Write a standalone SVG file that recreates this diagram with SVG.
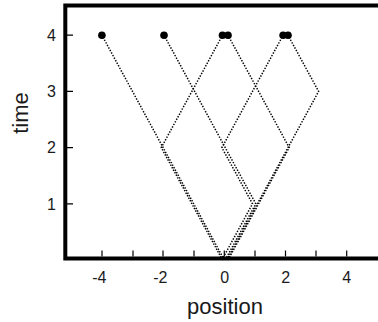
<svg xmlns="http://www.w3.org/2000/svg" width="378" height="322" viewBox="0 0 378 322">
<style>
.ax{stroke:#000;stroke-width:4;fill:none}
.tk{stroke:#000;stroke-width:1.2;fill:none}
.lbl{font-family:"Liberation Sans",Arial,sans-serif;font-size:16px;fill:#1a1a1a}
.ttl{font-family:"Liberation Sans",Arial,sans-serif;font-size:22px;fill:#1a1a1a}
.path{stroke:#000;stroke-width:1.5;fill:none;stroke-dasharray:1.4 1.5}
.dot{fill:#000}
</style>
<rect width="378" height="322" fill="#fff"/>
<g id="axes">
<path class="ax" d="M65.3,5.5 H378 M65.3,3.5 V260.5 M63.3,258.5 H378"/>
<path class="tk" d="M67,35.2 h6 M67,91.4 h6 M67,147.6 h6 M67,203.8 h6"/>
<path class="tk" d="M102,256.5 v-6 M133,256.5 v-6 M163,256.5 v-6 M194,256.5 v-6 M224.3,256.5 v-6 M255,256.5 v-6 M285.5,256.5 v-6 M316,256.5 v-6 M346.7,256.5 v-6"/>
</g>
<g id="tick-labels">
<text class="lbl" x="56" y="41" text-anchor="end">4</text>
<text class="lbl" x="56" y="97.2" text-anchor="end">3</text>
<text class="lbl" x="56" y="153.4" text-anchor="end">2</text>
<text class="lbl" x="56" y="209.6" text-anchor="end">1</text>
<text class="lbl" x="106.5" y="282.5" text-anchor="end">-4</text>
<text class="lbl" x="167.5" y="282.5" text-anchor="end">-2</text>
<text class="lbl" x="224.8" y="282.5" text-anchor="middle">0</text>
<text class="lbl" x="285.8" y="282.5" text-anchor="middle">2</text>
<text class="lbl" x="346.7" y="282.5" text-anchor="middle">4</text>
</g>
<g id="axis-titles">
<text class="ttl" x="225" y="314" text-anchor="middle">position</text>
<text class="ttl" transform="translate(27.5,113) rotate(-90)" text-anchor="middle">time</text>
</g>
<g id="connectors">
<path class="path" d="M224.3,260 L101.9,35.2"/>
<path class="path" d="M222.5,260 L161.3,147.6 L222.5,35.2"/>
<path class="path" d="M225.2,260 L255.8,203.8 L164,35.2"/>
<path class="path" d="M221.9,260 L252.5,203.8 L221.9,147.6 L283.1,35.2"/>
<path class="path" d="M226.8,260 L318.6,91.4 L288,35.2"/>
<path class="path" d="M228,260 L289.2,147.6 L228,35.2"/>
</g>
<g id="endpoints">
<circle class="dot" cx="101.9" cy="35.2" r="3.8"/>
<circle class="dot" cx="164" cy="35.2" r="3.8"/>
<circle class="dot" cx="222.5" cy="35.2" r="3.8"/>
<circle class="dot" cx="228" cy="35.2" r="3.8"/>
<circle class="dot" cx="283.1" cy="35.2" r="3.8"/>
<circle class="dot" cx="288" cy="35.2" r="3.8"/>
</g>
</svg>
